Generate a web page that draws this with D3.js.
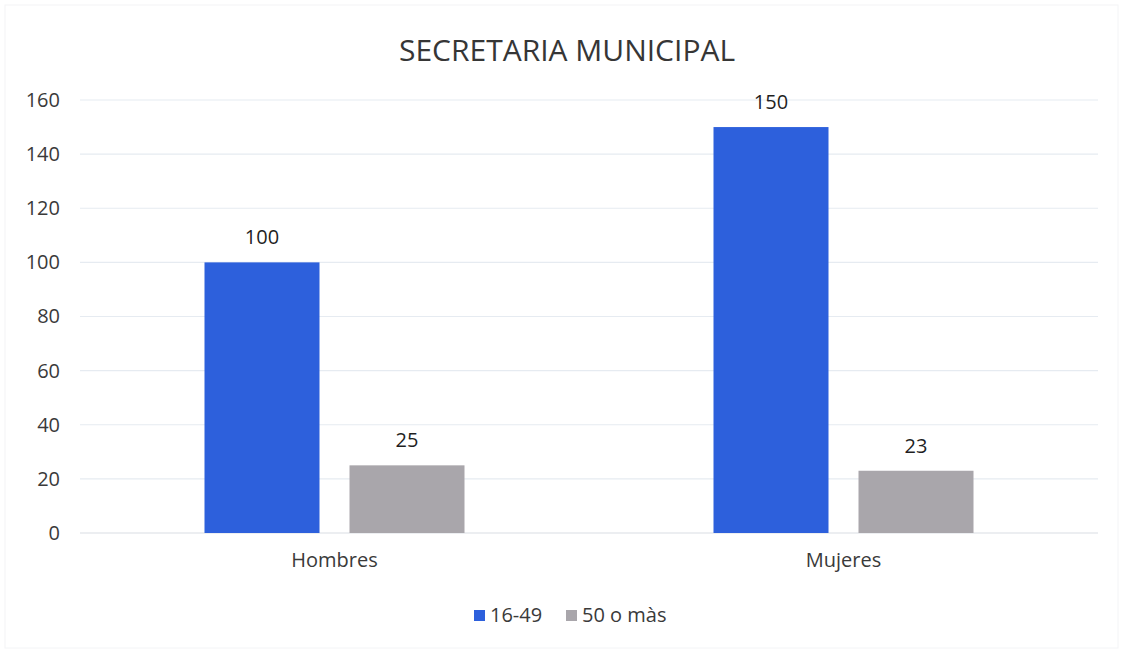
<!DOCTYPE html>
<html>
<head>
<meta charset="utf-8">
<script src="https://cdn.jsdelivr.net/npm/d3@7"></script>
<style>
  body { margin: 0; background: #fff; }
  text { font-family: "Open Sans", "Noto Sans", sans-serif; }
</style>
</head>
<body>
<div id="chart"></div>
<script>
// data
const categories = ["Hombres", "Mujeres"];
const seriesNames = ["16-49", "50 o màs"];
const values1649 = [100, 150];
const values50 = [25, 23];
const yTicks = [0, 20, 40, 60, 80, 100, 120, 140, 160];
const title = "SECRETARIA MUNICIPAL";

const colors = ["#2d60dc", "#a9a6ab"];

const width = 1123, height = 653;
const margin = { top: 100, right: 25, bottom: 120, left: 80 };
const plotW = width - margin.left - margin.right;
const plotH = height - margin.top - margin.bottom;

const svg = d3.select("#chart")
    .append("svg")
    .attr("width", width)
    .attr("height", height);

// faint frame
svg.append("rect")
    .attr("x", 5).attr("y", 5)
    .attr("width", width - 10).attr("height", height - 10)
    .attr("fill", "none")
    .style("stroke", "#f3f4f6")
    .style("stroke-width", 1);

svg.append("text")
    .attr("x", 567)
    .attr("y", 61)
    .attr("text-anchor", "middle")
    .attr("font-size", "30px")
    .style("fill", "#363636")
    .text(title);

const g = svg.append("g")
    .attr("transform", "translate(" + margin.left + "," + margin.top + ")");

const y = d3.scaleLinear().domain([0, 160]).range([plotH, 0]);
const x0 = d3.scaleBand().domain(categories).range([0, plotW]);
const x1 = d3.scaleBand().domain(seriesNames).range([0, 260]).paddingInner(30 / 145);

// gridlines
g.selectAll(".grid")
    .data(yTicks)
    .enter()
    .append("line")
    .attr("x1", 0)
    .attr("x2", plotW)
    .attr("y1", d => y(d))
    .attr("y2", d => y(d))
    .style("stroke", d => d === 0 ? "#d9dde3" : "#e6ebf1")
    .style("stroke-width", 1.2);

// y labels
const yAxis = d3.axisLeft(y).tickValues(yTicks).tickSize(0).tickPadding(20);
g.append("g")
    .call(yAxis)
    .call(s => s.select(".domain").remove())
    .selectAll("text")
    .attr("font-size", "20px")
    .style("fill", "#3a3a3a")
    .style("font-family", '"Open Sans", "Noto Sans", sans-serif');

const rows = categories.map((c, i) => ({
    cat: c,
    vals: [{ key: seriesNames[0], v: values1649[i] }, { key: seriesNames[1], v: values50[i] }]
}));

const groups = g.selectAll(".grp")
    .data(rows)
    .enter()
    .append("g")
    .attr("transform", d => "translate(" + (x0(d.cat) + x0.bandwidth() / 2 - 130) + ",0)");

groups.selectAll("rect")
    .data(d => d.vals)
    .enter()
    .append("rect")
    .attr("x", d => x1(d.key))
    .attr("width", x1.bandwidth())
    .attr("y", d => y(d.v))
    .attr("height", d => plotH - y(d.v))
    .style("fill", (d, i) => colors[i]);

groups.selectAll(".lbl")
    .data(d => d.vals)
    .enter()
    .append("text")
    .attr("x", d => x1(d.key) + x1.bandwidth() / 2)
    .attr("y", d => y(d.v) - 18)
    .attr("text-anchor", "middle")
    .attr("font-size", "20px")
    .style("fill", "#1f1f1f")
    .text(d => d.v);

// x labels
const xAxis = d3.axisBottom(x0).tickSize(0).tickPadding(20);
g.append("g")
    .attr("transform", "translate(0," + plotH + ")")
    .call(xAxis)
    .call(s => s.select(".domain").remove())
    .selectAll("text")
    .attr("font-size", "20px")
    .style("fill", "#3a3a3a")
    .style("font-family", '"Open Sans", "Noto Sans", sans-serif');

// legend
const legendX = [474, 566];
const legend = svg.selectAll(".legend")
    .data(seriesNames)
    .enter()
    .append("g")
    .attr("transform", (d, i) => "translate(" + legendX[i] + ",610)");
legend.append("rect")
    .attr("width", 11).attr("height", 11)
    .style("fill", (d, i) => colors[i]);
legend.append("text")
    .attr("x", 16)
    .attr("y", 12)
    .attr("font-size", "20px")
    .style("fill", "#3a3a3a")
    .text(d => d);
</script>
</body>
</html>
